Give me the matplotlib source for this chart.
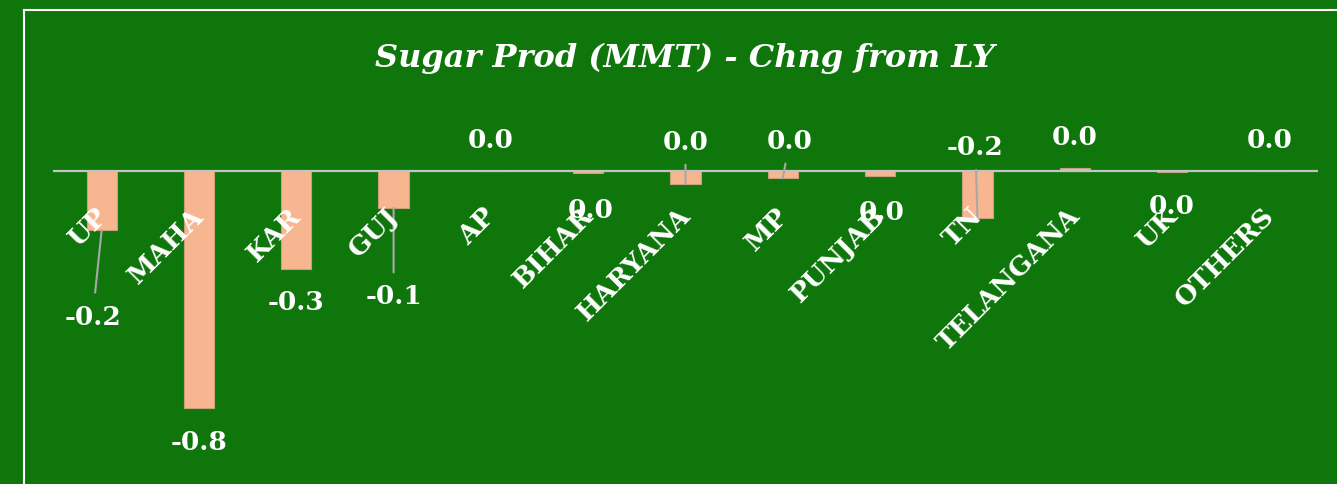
import matplotlib
matplotlib.use('Agg')
import matplotlib.pyplot as plt
from matplotlib.lines import Line2D

# Sugar production change from last year, by state (MMT)
states = ['UP', 'MAHA', 'KAR', 'GUJ', 'AP', 'BIHAR', 'HARYANA', 'MP',
          'PUNJAB', 'TN', 'TELANGANA', 'UK', 'OTHERS']
chng = [-0.20, -0.80, -0.33, -0.125, 0.0, -0.007, -0.044, -0.024,
        -0.017, -0.16, 0.01, -0.003, 0.0]

# where each value label sits, in pixels from the bar end
label_dx = [-9, 0, 0, 0, 0, 2, 0, 7, 2, -2, 0, 0, 0]
label_dy = [-86, -34, -33, -88, 32, -36, 43, 38, -35, 72, 32, -34, 32]
has_leader = [True, False, False, True, False, False, True, True,
              False, True, False, False, False]

bg = '#0e760b'
bar_color = '#f8b690'
serif = 'DejaVu Serif'

W, H = 1337, 485
fig = plt.figure(figsize=(W / 100, H / 100), dpi=100, facecolor=bg)
ax = fig.add_axes([53 / W, 0, 1265 / W, 1])
ax.set_facecolor(bg)
ax.set_xlim(-0.5, len(states) - 0.5)
ax.set_ylim(-(H - 172) / 296, 172 / 296)
ax.axis('off')

x = list(range(len(states)))
ax.bar(x, chng, width=0.31, color=bar_color, edgecolor='#c8a07e',
       linewidth=0.8, zorder=2)
ax.axhline(0, color='#c4c4c4', lw=1.6, zorder=3)

for i, v in enumerate(chng):
    txt = '%.1f' % (round(v, 1) + 0.0)
    arrow = None
    if has_leader[i]:
        arrow = dict(arrowstyle='-', color='#a8a8a8', lw=1.5,
                     shrinkA=6, shrinkB=0)
    ax.annotate(txt, xy=(i, v), xytext=(label_dx[i], label_dy[i]),
                textcoords='offset pixels', ha='center', va='center',
                color='white', fontsize=19, fontweight='bold',
                family=serif, arrowprops=arrow, zorder=4)

# rotated category labels hanging off the zero line
for i, name in enumerate(states):
    ax.annotate(name, xy=(i, 0), xytext=(1, -40),
                textcoords='offset pixels', rotation=45,
                rotation_mode='anchor', ha='right', va='center',
                color='white', fontsize=19, fontweight='bold',
                family=serif, zorder=5)

fig.text(685 / W, 1 - 58 / H, 'Sugar Prod (MMT) - Chng from LY',
         ha='center', va='center', color='white', fontsize=23,
         style='italic', fontweight='bold', family=serif)

# white frame, running off the right and bottom edges
fig.add_artist(Line2D([24 / W, 1], [1 - 11 / H, 1 - 11 / H],
                      transform=fig.transFigure, color='white', lw=1.5))
fig.add_artist(Line2D([24 / W, 24 / W], [0, 1 - 11 / H],
                      transform=fig.transFigure, color='white', lw=1.5))

fig.savefig('out.png', dpi=100, facecolor=bg)
